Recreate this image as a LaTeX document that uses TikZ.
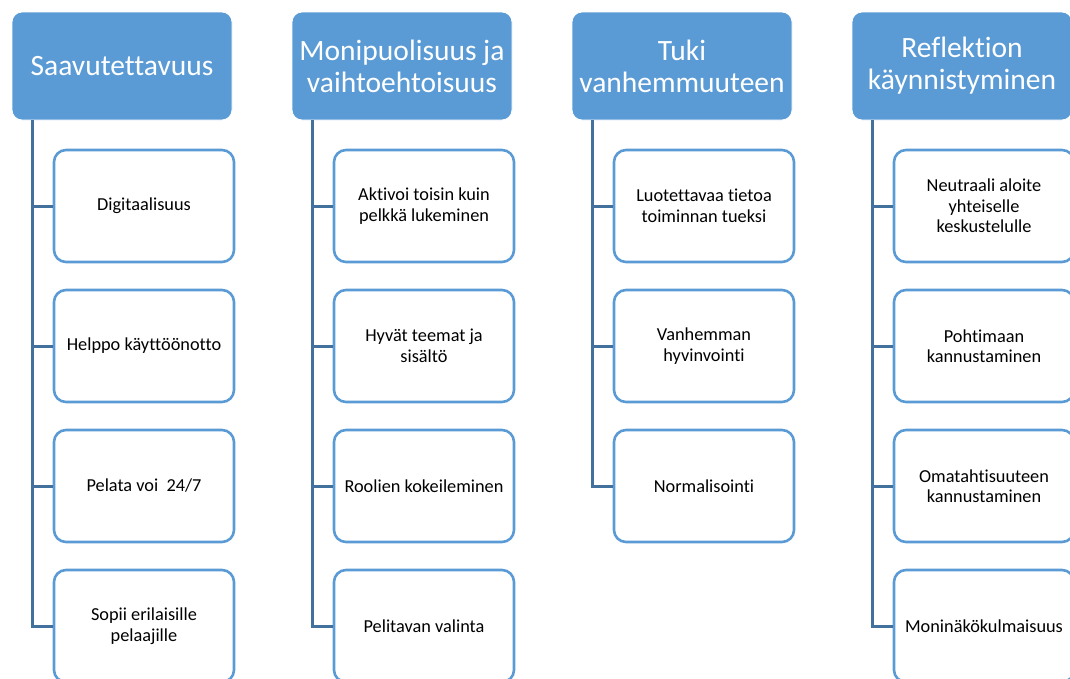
\documentclass[tikz,border=0pt]{standalone}
\usepackage{fontspec}
\setmainfont{Carlito}[Ligatures={NoCommon}]
\definecolor{hdrblue}{HTML}{5B9BD5}
\definecolor{linkblue}{HTML}{41719C}
\begin{document}
\begin{tikzpicture}[x=1pt,y=-1pt,
  hdr/.style={fill=hdrblue,draw=white,line width=0.8pt,rounded corners=10pt,minimum width=220pt,minimum height=108pt,
    text=white,align=center,font=\fontsize{29.5}{32}\selectfont,inner sep=0pt},
  child/.style={fill=white,draw=hdrblue,line width=2.6pt,rounded corners=12pt,minimum width=180pt,minimum height=112pt,
    text=black,align=center,font=\fontsize{18.3}{20.5}\selectfont,inner sep=0pt},
  link/.style={draw=linkblue,line width=3pt}]
\useasboundingbox (0,0) rectangle (1070,678);
\clip (0,0) rectangle (1070,678);
% headers
\node[hdr] (h1) at (122,66) {Saavutettavuus};
\node[hdr] (h2) at (402,66) {Monipuolisuus ja\\vaihtoehtoisuus};
\node[hdr] (h3) at (682,66) {Tuki\\vanhemmuuteen};
\node[hdr] (h4) at (962,66) {Reflektion\\käynnistyminen};
% column 1
\node[child] (c11) at (144,206) {Digitaalisuus};
\node[child] (c12) at (144,346) {Helppo käyttöönotto};
\node[child] (c13) at (144,486) {Pelata voi \ 24/7};
\node[child] (c14) at (144,626) {Sopii erilaisille\\pelaajille};
% column 2
\node[child] (c21) at (424,206) {Aktivoi toisin kuin\\pelkkä lukeminen};
\node[child] (c22) at (424,346) {Hyvät teemat ja\\sisältö};
\node[child] (c23) at (424,486) {Roolien kokeileminen};
\node[child] (c24) at (424,626) {Pelitavan valinta};
% column 3
\node[child] (c31) at (704,206) {Luotettavaa tietoa\\toiminnan tueksi};
\node[child] (c32) at (704,346) {Vanhemman\\hyvinvointi};
\node[child] (c33) at (704,486) {Normalisointi};
% column 4
\node[child] (c41) at (984,206) {Neutraali aloite\\yhteiselle\\keskustelulle};
\node[child] (c42) at (984,346) {Pohtimaan\\kannustaminen};
\node[child] (c43) at (984,486) {Omatahtisuuteen\\kannustaminen};
\node[child] (c44) at (984,626) {Moninäkökulmaisuus};
% connectors
\coordinate (s1) at ([xshift=21pt]h1.south west);
\coordinate (s2) at ([xshift=21pt]h2.south west);
\coordinate (s3) at ([xshift=21pt]h3.south west);
\coordinate (s4) at ([xshift=21pt]h4.south west);
\foreach \c in {c11,c12,c13,c14} {\draw[link] (s1) |- (\c.west);}
\foreach \c in {c21,c22,c23,c24} {\draw[link] (s2) |- (\c.west);}
\foreach \c in {c31,c32,c33} {\draw[link] (s3) |- (\c.west);}
\foreach \c in {c41,c42,c43,c44} {\draw[link] (s4) |- (\c.west);}
\end{tikzpicture}
\end{document}
